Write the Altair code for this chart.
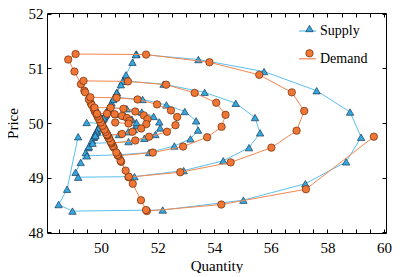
import altair as alt
import pandas as pd

# ---- data (shared price per step, supply & demand quantity) ----
price = [49.75, 48.79, 48.51, 48.39,
         48.41, 48.59, 48.89, 49.29, 49.74, 50.20, 50.59, 50.94, 51.16, 51.26,
         51.25, 51.11, 50.88, 50.56, 50.22, 49.86, 49.55, 49.28, 49.10, 49.01,
         49.02, 49.13, 49.31, 49.55, 49.82, 50.10, 50.36, 50.56, 50.71, 50.77,
         50.76, 50.70, 50.55, 50.37, 50.15, 49.93, 49.74, 49.57, 49.46, 49.40,
         49.42, 49.46, 49.58, 49.71, 49.87, 50.04, 50.21, 50.33, 50.43, 50.47,
         50.46, 50.43, 50.34, 50.23, 50.11, 49.96, 49.84, 49.75, 49.68, 49.63,
         49.64, 49.66, 49.72, 49.79, 49.91, 50.02, 50.12, 50.20, 50.26, 50.28,
         50.28, 50.26, 50.21, 50.14, 50.07, 49.98, 49.90, 49.84, 49.80, 49.77,
         49.78, 49.79, 49.84, 49.88, 49.95, 50.01, 50.07, 50.12, 50.16, 50.17,
         50.17, 50.16, 50.13, 50.09, 50.04, 49.99,
         50.01]
supply_qty = [49.19, 48.80, 48.50, 48.99,
              52.18, 55.03, 57.22, 58.66, 59.19, 58.80, 57.62, 55.76, 53.44, 51.25,
              51.23, 51.11, 50.88, 50.56, 50.22, 49.86, 49.55, 49.28, 49.10, 49.19,
              51.18, 52.92, 54.32, 55.23, 55.62, 55.44, 54.76, 53.66, 52.21, 50.79,
              50.76, 50.70, 50.55, 50.37, 50.15, 49.93, 49.74, 49.57, 49.46, 49.50,
              50.65, 51.70, 52.59, 53.16, 53.43, 53.36, 52.96, 52.31, 51.47, 50.47,
              50.46, 50.43, 50.34, 50.23, 50.11, 49.96, 49.84, 49.75, 49.68, 49.70,
              50.39, 50.97, 51.53, 51.92, 52.09, 52.06, 51.86, 51.44, 50.91, 50.28,
              50.28, 50.26, 50.21, 50.14, 50.07, 49.98, 49.90, 49.84, 49.80, 49.80,
              50.24, 50.63, 50.96, 51.16, 51.27, 51.25, 51.09, 50.86, 50.54, 50.17,
              50.17, 50.16, 50.13, 50.09, 50.04, 49.99,
              49.49]
demand_qty = [59.64, 57.24, 54.25, 51.62,
              51.59, 51.41, 51.12, 50.71, 50.26, 49.80, 49.41, 49.06, 48.84, 49.10,
              51.59, 53.83, 55.59, 56.74, 57.18, 56.91, 56.02, 54.58, 52.80, 50.97,
              50.98, 50.87, 50.69, 50.45, 50.18, 49.90, 49.64, 49.44, 49.29, 49.38,
              50.95, 52.30, 53.31, 54.07, 54.40, 54.26, 53.75, 52.90, 51.83, 50.60,
              50.58, 50.54, 50.42, 50.29, 50.13, 49.96, 49.79, 49.67, 49.57, 49.62,
              50.55, 51.29, 51.98, 52.47, 52.69, 52.63, 52.33, 51.70, 51.21, 50.37,
              50.36, 50.34, 50.28, 50.21, 50.09, 49.98, 49.88, 49.80, 49.74, 49.77,
              50.34, 50.79, 51.21, 51.51, 51.64, 51.60, 51.42, 51.11, 50.74, 50.23,
              50.22, 50.21, 50.16, 50.12, 50.05, 49.99, 49.93, 49.88, 49.84, 49.86,
              50.21, 50.48, 50.74, 50.92, 51.00, 50.97,
              50.50]

series_names = ["Supply", "Demand"]
series_keys = ["S", "D"]
x_tick_values = [48.5, 49.0, 49.5, 50.0, 50.5, 51.0, 51.5, 52.0, 52.5, 53.0, 53.5, 54.0,
                 54.5, 55.0, 55.5, 56.0, 56.5, 57.0, 57.5, 58.0, 58.5, 59.0, 59.5, 60.0]
y_tick_values = [48, 49, 50, 51, 52]

# ---- styling ----
FONT = "Liberation Serif"
LINE_COLORS = ["#5BC0F0", "#F4874F"]
FILL_COLORS = ["#35A7DF", "#F07636"]
EDGE_COLORS = ["#1C3A55", "#6B2C0C"]
X_DOMAIN = [48.09, 60.07]
Y_DOMAIN = [47.99, 52.01]
TICK = 4

rows = []
for i in range(len(price)):
    rows.append({"t": i, "series": "Supply", "key": "S", "q": supply_qty[i], "p": price[i]})
    rows.append({"t": i, "series": "Demand", "key": "D", "q": demand_qty[i], "p": price[i]})
df = pd.DataFrame(rows)

xs = alt.Scale(domain=X_DOMAIN, nice=False, zero=False)
ys = alt.Scale(domain=Y_DOMAIN, nice=False, zero=False)

ax_bottom = alt.Axis(orient="bottom", values=x_tick_values,
                     labelExpr="datum.value % 2 === 0 ? format(datum.value, 'd') : ''",
                     tickSize=TICK, offset=-TICK, domain=False, grid=False,
                     labelPadding=7, labelFlush=False, title="Quantity", titlePadding=3)
ax_top = alt.Axis(orient="top", values=x_tick_values, labels=False,
                  tickSize=TICK, offset=-TICK, domain=False, grid=False, title=None)
ax_left = alt.Axis(orient="left", values=y_tick_values, format="d", tickSize=TICK, offset=-TICK,
                   domain=False, grid=False, labelPadding=4, labelFlush=False,
                   title="Price", titlePadding=8)
ax_right = alt.Axis(orient="right", values=y_tick_values, labels=False, tickSize=TICK,
                    offset=-TICK, domain=False, grid=False, title=None)

legend_lines = alt.Legend(orient="none", legendX=251, legendY=8.5, title=None,
                          symbolType="stroke", symbolSize=289, symbolStrokeWidth=1.2,
                          labelFont=FONT, labelFontSize=14, labelColor="black",
                          labelOffset=3, rowPadding=10.8, padding=0, direction="vertical")
legend_marks = alt.Legend(orient="none", legendX=255.5, legendY=8.5, title=None,
                          symbolSize=55, symbolStrokeWidth=0.7, symbolOpacity=1,
                          labelFont=FONT, labelFontSize=14, labelExpr="''",
                          labelOffset=3, rowPadding=10.8, padding=0, direction="vertical")

color_enc = alt.Color("series:N", scale=alt.Scale(domain=series_names, range=LINE_COLORS),
                      legend=legend_lines)
shape_enc = alt.Shape("key:N", scale=alt.Scale(domain=series_keys, range=["triangle-up", "circle"]),
                      legend=legend_marks)
fill_enc = alt.Fill("key:N", scale=alt.Scale(domain=series_keys, range=FILL_COLORS),
                    legend=legend_marks)
stroke_enc = alt.Stroke("key:N", scale=alt.Scale(domain=series_keys, range=EDGE_COLORS),
                        legend=legend_marks)

base = alt.Chart(df)


def line_layer(name, xaxis, yaxis):
    return base.transform_filter(alt.datum.series == name).mark_line(strokeWidth=1).encode(
        x=alt.X("q:Q", scale=xs, axis=xaxis),
        y=alt.Y("p:Q", scale=ys, axis=yaxis),
        color=color_enc,
        order="t:Q",
    )


def point_layer(name, xaxis, yaxis):
    return base.transform_filter(alt.datum.series == name).mark_point(
        filled=True, size=55, strokeWidth=0.7, opacity=1
    ).encode(
        x=alt.X("q:Q", scale=xs, axis=xaxis),
        y=alt.Y("p:Q", scale=ys, axis=yaxis),
        shape=shape_enc,
        fill=fill_enc,
        stroke=stroke_enc,
    )


chart = alt.layer(
    line_layer("Supply", ax_bottom, ax_left),
    point_layer("Supply", ax_top, ax_right),
    line_layer("Demand", None, None),
    point_layer("Demand", None, None),
).resolve_axis(x="independent", y="independent").properties(
    width=339, height=220,
    autosize=alt.AutoSizeParams(type="none"),
    padding={"left": 39, "top": 5, "right": 20, "bottom": 40},
    background="white",
).configure_view(
    stroke="black", strokeWidth=1
).configure_axis(
    labelFont=FONT, labelFontSize=15, labelColor="black",
    titleFont=FONT, titleFontSize=15, titleColor="black", titleFontWeight="normal",
    tickColor="black", tickWidth=1,
)

chart.save("out.html", embed_options={"renderer": "svg", "actions": False})
